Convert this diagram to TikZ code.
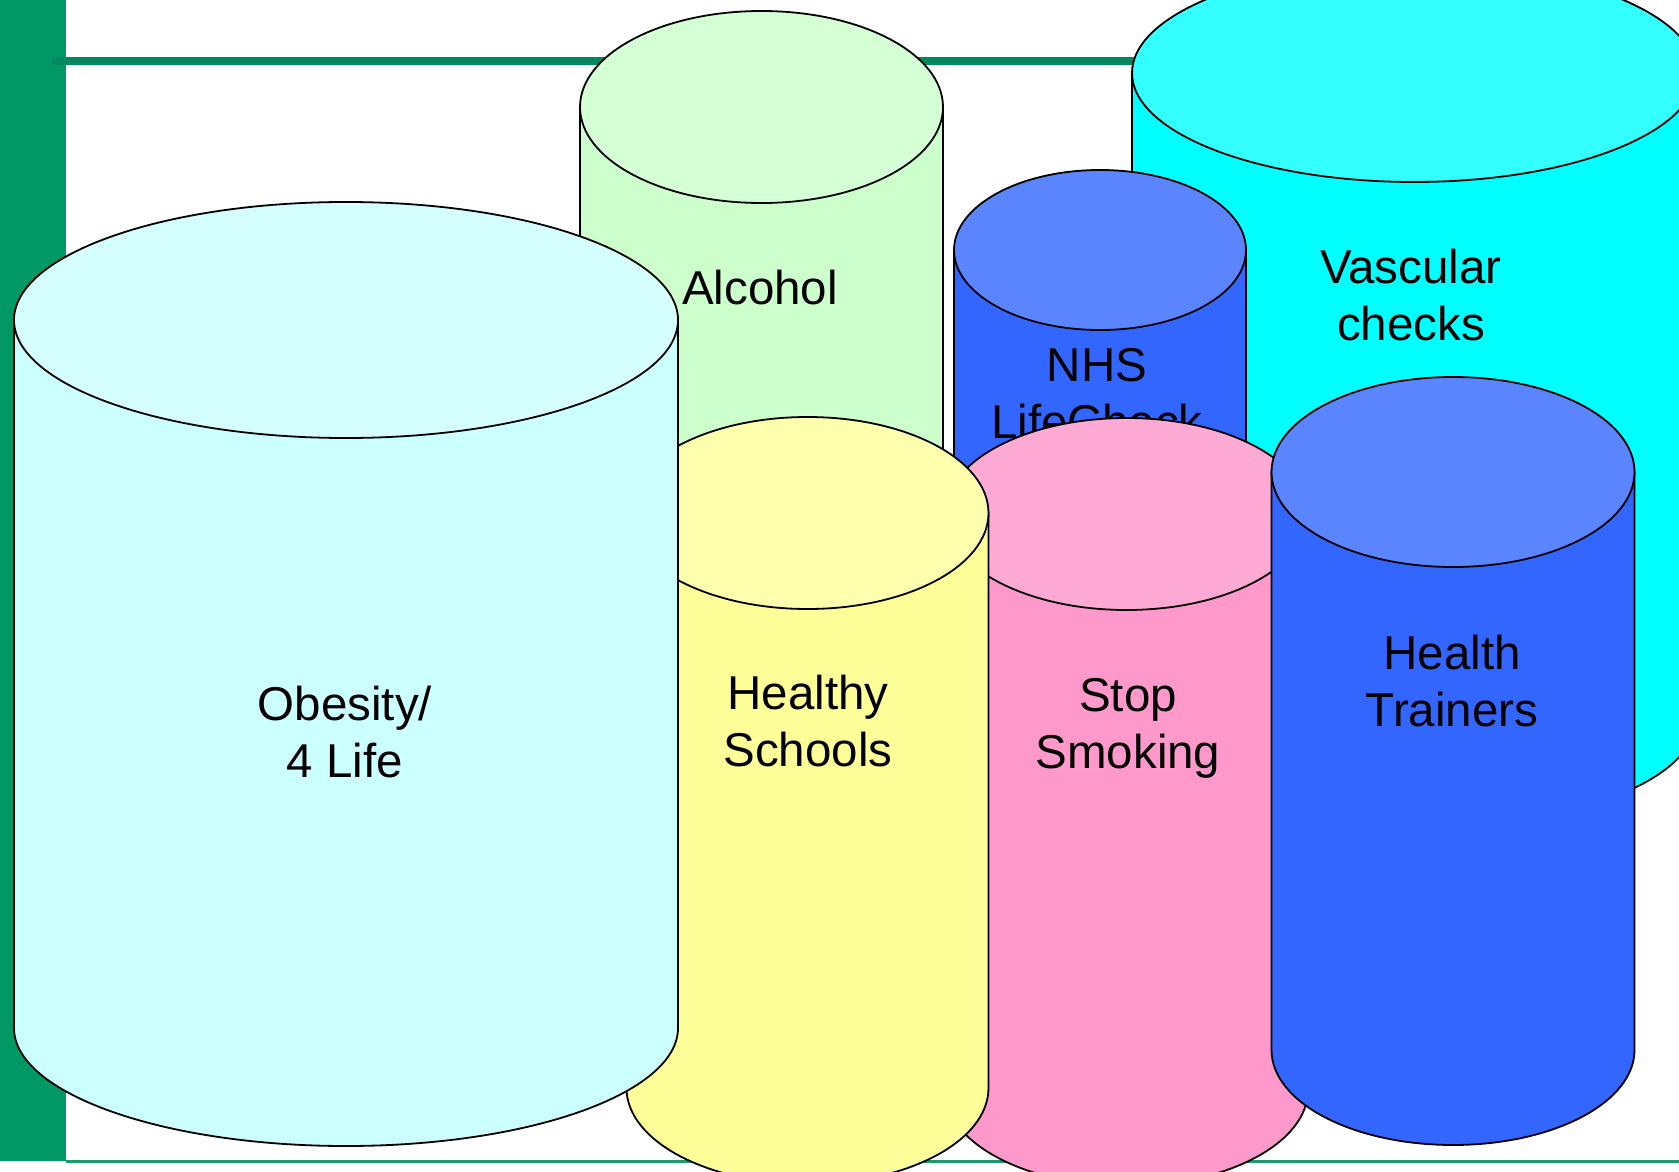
\documentclass[tikz,border=0pt]{standalone}
\usepackage{fontspec}
\setmainfont{Liberation Sans}
\definecolor{barGreen}{HTML}{009966}
\definecolor{lineGreen}{HTML}{00885F}
\definecolor{baseGreen}{HTML}{1E9A72}
\definecolor{obBody}{HTML}{CCFFFF}
\definecolor{obTop}{HTML}{D5FFFF}
\definecolor{alBody}{HTML}{CCFFCC}
\definecolor{alTop}{HTML}{D5FFD5}
\definecolor{vaBody}{HTML}{00FFFF}
\definecolor{vaTop}{HTML}{33FFFF}
\definecolor{blBody}{HTML}{3366FF}
\definecolor{blTop}{HTML}{5B85FF}
\definecolor{hsBody}{HTML}{FFFF99}
\definecolor{hsTop}{HTML}{FFFFAD}
\definecolor{ssBody}{HTML}{FF99CC}
\definecolor{ssTop}{HTML}{FFAAD5}
% \cylbox{cx}{ytop}{ybot}{rx}{ry}{body}{top}
\newcommand{\cylbox}[7]{%
  \filldraw[outl, fill=#6] (#1-#4,#2) -- (#1-#4,#3)
     arc[start angle=180, end angle=0, x radius=#4, y radius=#5]
     -- (#1+#4,#2) -- cycle;
  \filldraw[outl, fill=#7] (#1,#2) ellipse[x radius=#4, y radius=#5];
}
\begin{document}
\begin{tikzpicture}[x=1pt,y=-1pt,
  outl/.style={draw=black, line width=1.8pt},
  lbl/.style={anchor=base, inner sep=0pt, font=\fontsize{47.5}{57}\selectfont}]
\useasboundingbox (0,0) rectangle (1679,1172);
\fill[white] (0,0) rectangle (1679,1172);
% frame
\fill[barGreen] (0,0) rectangle (66,1161);
\fill[lineGreen] (52,57) rectangle (1140,65);
\fill[baseGreen] (66,1159.5) rectangle (1679,1162.5);
% Vascular checks
\cylbox{1414}{73}{720}{282}{109}{vaBody}{vaTop}
\node[lbl] (vasc) at (1411,283) {\begin{tabular}[t]{@{}c@{}}Vascular\\checks\end{tabular}};
% Alcohol
\cylbox{761.5}{107}{900}{181.5}{96}{alBody}{alTop}
\node[lbl] (alc) at (760,304) {Alcohol};
% NHS LifeCheck
\cylbox{1100}{250}{900}{146}{80}{blBody}{blTop}
\node[lbl] (nhs) at (1097,381) {\begin{tabular}[t]{@{}c@{}}NHS\\LifeCheck\end{tabular}};
% Stop Smoking
\cylbox{1126.5}{514}{1090}{181.5}{96}{ssBody}{ssTop}
\node[lbl] (stop) at (1128,711) {\begin{tabular}[t]{@{}c@{}}Stop\\Smoking\end{tabular}};
% Health Trainers
\cylbox{1453}{472}{1050}{181.5}{95}{blBody}{blTop}
\node[lbl] (trainers) at (1452,669) {\begin{tabular}[t]{@{}c@{}}Health\\Trainers\end{tabular}};
% Healthy Schools
\cylbox{807.5}{513}{1088}{181}{96}{hsBody}{hsTop}
\node[lbl] (schools) at (808,709) {\begin{tabular}[t]{@{}c@{}}Healthy\\Schools\end{tabular}};
% Obesity / 4 Life
\cylbox{346}{320}{1028}{332}{118}{obBody}{obTop}
\node[lbl] (obesity) at (345,720) {\begin{tabular}[t]{@{}c@{}}Obesity/\\4 Life\end{tabular}};
\end{tikzpicture}
\end{document}
